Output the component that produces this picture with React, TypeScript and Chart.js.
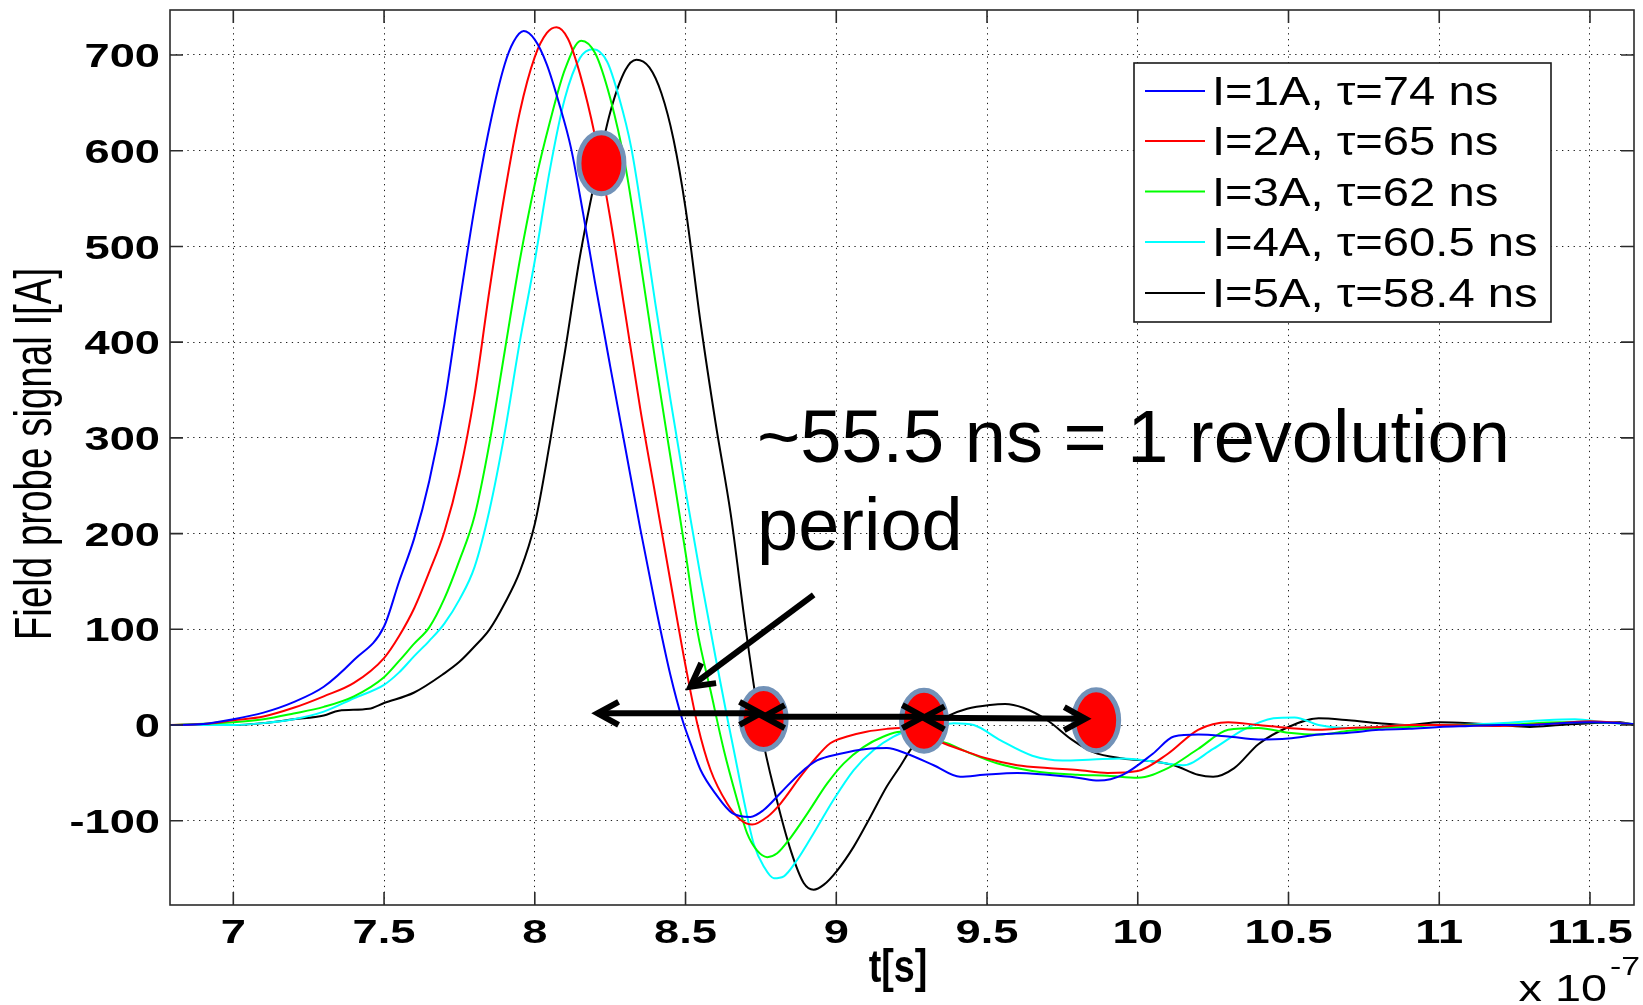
import React, { useEffect, useRef } from 'react';
import { Chart, registerables } from 'chart.js';

Chart.register(...registerables);

const FONT = '"Liberation Sans", Arial, Helvetica, sans-serif';

// ---- axes ----
const xTicks = [7, 7.5, 8, 8.5, 9, 9.5, 10, 10.5, 11, 11.5];
const xTickLabels = ['7', '7.5', '8', '8.5', '9', '9.5', '10', '10.5', '11', '11.5'];
const yTicks = [-100, 0, 100, 200, 300, 400, 500, 600, 700];
const yTickLabels = ['-100', '0', '100', '200', '300', '400', '500', '600', '700'];
const xRange = [6.79, 11.646];
const yRange = [-188, 747];

// ---- series: [time (x 1e-7 s), signal (A)] ----
const seriesI1: [number, number][] = [
  [6.79, 0], [6.9, 1], [7.0, 6], [7.1, 13], [7.2, 24], [7.3, 40], [7.4, 68], [7.5, 103], [7.55, 150],
  [7.6, 195], [7.65, 255], [7.7, 335], [7.75, 440], [7.8, 540], [7.85, 625], [7.9, 690], [7.93, 714],
  [7.963, 725], [8.0, 716], [8.04, 690], [8.08, 650], [8.12, 603], [8.16, 535], [8.2, 462], [8.25, 375],
  [8.3, 290], [8.35, 205], [8.4, 125], [8.45, 52], [8.49, 5], [8.52, -22], [8.55, -47], [8.6, -72],
  [8.655, -92], [8.715, -96], [8.758, -89], [8.815, -71], [8.881, -50], [8.936, -37], [9.013, -30],
  [9.1, -25], [9.168, -24], [9.234, -30], [9.323, -42], [9.411, -54], [9.489, -52], [9.6, -50], [9.7, -52],
  [9.8, -55], [9.87, -58], [9.95, -52], [10.05, -30], [10.12, -12], [10.2, -10], [10.3, -12], [10.4, -15],
  [10.5, -14], [10.6, -10], [10.7, -8], [10.8, -5], [10.9, -4], [11.0, -2], [11.1, -1], [11.2, 0], [11.3, 0],
  [11.4, 2], [11.5, 3], [11.6, 2], [11.646, 1],
];
const seriesI2: [number, number][] = [
  [6.79, 0], [6.9, 1], [7.0, 5], [7.1, 9], [7.2, 18], [7.3, 30], [7.4, 44], [7.5, 70], [7.55, 93], [7.6, 122],
  [7.65, 160], [7.7, 202], [7.75, 262], [7.8, 345], [7.85, 455], [7.9, 555], [7.95, 640], [8.0, 698],
  [8.04, 723], [8.072, 729], [8.11, 717], [8.15, 680], [8.2, 615], [8.25, 530], [8.3, 430], [8.35, 330],
  [8.4, 240], [8.45, 150], [8.5, 62], [8.54, 0], [8.583, -47], [8.638, -82], [8.682, -99], [8.721, -104],
  [8.771, -96], [8.815, -82], [8.881, -54], [8.925, -37], [8.98, -19], [9.036, -12], [9.1, -7], [9.168, -4],
  [9.212, -3], [9.279, -9], [9.356, -19], [9.434, -28], [9.5, -35], [9.6, -42], [9.7, -45], [9.8, -47],
  [9.9, -50], [10.0, -48], [10.1, -30], [10.2, -5], [10.3, 3], [10.4, 0], [10.5, -3], [10.6, -5], [10.7, -3],
  [10.8, -2], [10.9, 0], [11.0, 0], [11.2, -1], [11.4, 2], [11.5, 4], [11.646, 1],
];
const seriesI3: [number, number][] = [
  [6.79, 0], [7.0, 3], [7.1, 6], [7.2, 12], [7.3, 19], [7.4, 30], [7.5, 50], [7.55, 67], [7.6, 85], [7.65, 102],
  [7.7, 132], [7.75, 172], [7.8, 218], [7.85, 295], [7.9, 390], [7.95, 485], [8.0, 565], [8.05, 630],
  [8.1, 685], [8.154, 715], [8.2, 702], [8.25, 655], [8.3, 585], [8.35, 485], [8.4, 380], [8.45, 280],
  [8.5, 180], [8.54, 97], [8.583, 36], [8.627, -26], [8.671, -78], [8.704, -113], [8.737, -131], [8.771, -138],
  [8.804, -134], [8.85, -117], [8.905, -92], [8.97, -61], [9.025, -40], [9.09, -23], [9.157, -12], [9.212, -7],
  [9.279, -12], [9.367, -19], [9.434, -28], [9.533, -40], [9.65, -48], [9.8, -52], [9.9, -53], [10.0, -55],
  [10.1, -45], [10.2, -25], [10.3, -5], [10.4, -3], [10.5, -8], [10.6, -10], [10.7, -6], [10.8, -3],
  [10.9, -2], [11.0, 0], [11.2, 0], [11.4, 3], [11.5, 3], [11.646, 1],
];
const seriesI4: [number, number][] = [
  [6.79, 0], [7.0, 0], [7.1, 2], [7.2, 6], [7.3, 14], [7.4, 28], [7.5, 42], [7.55, 55], [7.6, 72], [7.65, 88],
  [7.7, 106], [7.75, 131], [7.8, 165], [7.85, 225], [7.9, 305], [7.95, 400], [8.0, 485], [8.05, 580],
  [8.1, 655], [8.15, 697], [8.194, 706], [8.24, 693], [8.28, 655], [8.32, 603], [8.36, 525], [8.4, 440],
  [8.45, 340], [8.5, 245], [8.55, 155], [8.6, 70], [8.64, 5], [8.66, -26], [8.693, -78], [8.726, -124],
  [8.76, -148], [8.793, -160], [8.826, -158], [8.87, -141], [8.925, -113], [8.991, -78], [9.058, -47],
  [9.124, -26], [9.19, -12], [9.246, -5], [9.323, -2], [9.39, 2], [9.456, 0], [9.545, -16], [9.65, -32],
  [9.75, -37], [9.85, -36], [9.95, -35], [10.05, -38], [10.15, -42], [10.25, -25], [10.35, -5], [10.45, 7],
  [10.52, 8], [10.6, 0], [10.7, -3], [10.8, -2], [10.9, 0], [11.0, 0], [11.2, 2], [11.35, 5], [11.45, 6],
  [11.55, 3], [11.646, 1],
];
const seriesI5: [number, number][] = [
  [6.79, 0], [7.0, 0], [7.1, 2], [7.2, 6], [7.3, 10], [7.35, 15], [7.45, 17], [7.5, 23], [7.6, 34], [7.7, 54],
  [7.75, 66], [7.8, 82], [7.85, 100], [7.9, 127], [7.95, 160], [8.0, 210], [8.05, 295], [8.1, 390],
  [8.15, 490], [8.2, 570], [8.25, 640], [8.3, 684], [8.337, 695], [8.38, 687], [8.42, 660], [8.46, 612],
  [8.5, 540], [8.55, 420], [8.6, 315], [8.65, 220], [8.7, 100], [8.75, -5], [8.8, -75], [8.85, -132],
  [8.892, -165], [8.925, -172], [8.958, -167], [9.003, -152], [9.058, -127], [9.113, -96], [9.168, -64],
  [9.212, -43], [9.246, -26], [9.3, -5], [9.367, 9], [9.434, 17], [9.51, 21], [9.56, 22], [9.62, 18],
  [9.7, 5], [9.78, -15], [9.85, -28], [9.95, -35], [10.05, -38], [10.12, -42], [10.2, -52], [10.25, -54],
  [10.32, -45], [10.4, -20], [10.5, -2], [10.6, 7], [10.7, 5], [10.8, 2], [10.9, 0], [11.0, 3], [11.1, 2],
  [11.2, 0], [11.3, -2], [11.4, 0], [11.5, 2], [11.6, 3], [11.646, 0],
];

const seriesLabels = ['I=1A, \u03c4=74 ns', 'I=2A, \u03c4=65 ns', 'I=3A, \u03c4=62 ns', 'I=4A, \u03c4=60.5 ns', 'I=5A, \u03c4=58.4 ns'];
const seriesColors = ['#0000ff', '#ff0000', '#00ff00', '#00ffff', '#000000'];
const allSeries = [seriesI1, seriesI2, seriesI3, seriesI4, seriesI5];

// ---- annotation anchors (data units) ----
const markerT = [8.221, 8.759, 9.291, 9.862];
const markerI = [587, 6.3, 4.5, 5];
const spanT: [number, number][] = [[8.208, 8.749], [8.759, 9.289], [9.289, 9.826]];
const spanI: [number, number][] = [[12.2, 12.2], [8.7, 8.7], [7.5, 6.5]];
const pointerT: [number, number] = [8.925, 8.516];
const pointerI: [number, number] = [136, 40];
const noteLines = ['~55.5 ns = 1 revolution', 'period'];

const xTitle = 't[s]';
const yTitle = 'Field probe signal I[A]';
const xExponent = ['x 10', '-7'];

function stretchedText(
  ctx: CanvasRenderingContext2D, str: string, x: number, y: number,
  size: number, sx: number, align: 'left' | 'center' | 'right', weight = 'normal'
) {
  ctx.save();
  ctx.font = `${weight} ${size}px ${FONT}`;
  ctx.fillStyle = '#000';
  ctx.textBaseline = 'alphabetic';
  ctx.textAlign = 'left';
  const w = ctx.measureText(str).width * sx;
  let x0 = x;
  if (align === 'center') x0 = x - w / 2;
  else if (align === 'right') x0 = x - w;
  ctx.translate(x0, y);
  ctx.scale(sx, 1);
  ctx.fillText(str, 0, 0);
  ctx.restore();
}

function chevron(ctx: CanvasRenderingContext2D, tx: number, ty: number, dirX: number, dirY: number, len: number, ang: number) {
  const a = Math.atan2(dirY, dirX);
  ctx.beginPath();
  ctx.moveTo(tx - len * Math.cos(a - ang), ty - len * Math.sin(a - ang));
  ctx.lineTo(tx, ty);
  ctx.lineTo(tx - len * Math.cos(a + ang), ty - len * Math.sin(a + ang));
  ctx.stroke();
}

const decorPlugin = {
  id: 'decor',
  afterDatasetsDraw(chart: any) {
    const { ctx, chartArea: ca, scales } = chart;
    const xs = scales.x;
    const ys = scales.y;
    ctx.save();
    // box
    ctx.strokeStyle = '#2b2b2b';
    ctx.lineWidth = 1.6;
    ctx.strokeRect(ca.left, ca.top, ca.right - ca.left, ca.bottom - ca.top);
    // inner tick marks
    const tl = 13;
    ctx.beginPath();
    xTicks.forEach((v) => {
      const px = xs.getPixelForValue(v);
      ctx.moveTo(px, ca.bottom); ctx.lineTo(px, ca.bottom - tl);
      ctx.moveTo(px, ca.top); ctx.lineTo(px, ca.top + tl);
    });
    yTicks.forEach((v) => {
      const py = ys.getPixelForValue(v);
      ctx.moveTo(ca.left, py); ctx.lineTo(ca.left + tl, py);
      ctx.moveTo(ca.right, py); ctx.lineTo(ca.right - tl, py);
    });
    ctx.stroke();

    // legend
    const lx0 = 1134, ly0 = 63, lx1 = 1551, ly1 = 322;
    ctx.fillStyle = '#fff';
    ctx.fillRect(lx0, ly0, lx1 - lx0, ly1 - ly0);
    ctx.strokeStyle = '#1a1a1a';
    ctx.lineWidth = 1.6;
    ctx.strokeRect(lx0, ly0, lx1 - lx0, ly1 - ly0);
    const rows = [91, 141, 191.5, 242, 293];
    seriesLabels.forEach((lab, k) => {
      ctx.strokeStyle = seriesColors[k];
      ctx.lineWidth = 2;
      ctx.beginPath();
      ctx.moveTo(1145, rows[k]);
      ctx.lineTo(1205, rows[k]);
      ctx.stroke();
      stretchedText(ctx, lab, 1212, rows[k] + 14.3, 40, 1.18, 'left');
    });

    // ellipses
    markerT.forEach((t, k) => {
      const px = xs.getPixelForValue(t);
      const py = ys.getPixelForValue(markerI[k]);
      ctx.beginPath();
      ctx.ellipse(px, py, 22.5, 30.5, 0, 0, Math.PI * 2);
      ctx.fillStyle = '#ff0000';
      ctx.fill();
      ctx.lineWidth = 5;
      ctx.strokeStyle = '#7292b8';
      ctx.stroke();
    });

    // horizontal double arrows
    ctx.strokeStyle = '#000';
    ctx.lineWidth = 6;
    ctx.lineCap = 'butt';
    ctx.lineJoin = 'miter';
    spanT.forEach((pair, k) => {
      const x1 = xs.getPixelForValue(pair[0]);
      const x2 = xs.getPixelForValue(pair[1]);
      const y1 = ys.getPixelForValue(spanI[k][0]);
      const y2 = ys.getPixelForValue(spanI[k][1]);
      ctx.beginPath();
      ctx.moveTo(x1, y1);
      ctx.lineTo(x2, y2);
      ctx.stroke();
      chevron(ctx, x1, y1, x1 - x2, y1 - y2, 24, 0.5);
      chevron(ctx, x2, y2, x2 - x1, y2 - y1, 24, 0.5);
    });
    // pointer arrow
    {
      const x1 = xs.getPixelForValue(pointerT[0]);
      const y1 = ys.getPixelForValue(pointerI[0]);
      const x2 = xs.getPixelForValue(pointerT[1]);
      const y2 = ys.getPixelForValue(pointerI[1]);
      ctx.beginPath();
      ctx.moveTo(x1, y1);
      ctx.lineTo(x2, y2);
      ctx.stroke();
      chevron(ctx, x2, y2, x2 - x1, y2 - y1, 26, 0.5);
    }

    // note text (not stretched)
    ctx.fillStyle = '#000';
    ctx.font = `normal 74px ${FONT}`;
    ctx.textAlign = 'left';
    ctx.textBaseline = 'alphabetic';
    ctx.fillText(noteLines[0], 757, 462);
    ctx.fillText(noteLines[1], 757, 550);
    ctx.restore();
  },
  afterDraw(chart: any) {
    const { ctx, chartArea: ca, scales } = chart;
    const xs = scales.x;
    const ys = scales.y;
    ctx.save();
    const ts = 34, sx = 1.33;
    yTicks.forEach((v, k) => {
      const py = ys.getPixelForValue(v);
      stretchedText(ctx, yTickLabels[k], ca.left - 10, py + 0.358 * ts, ts, sx, 'right', 'bold');
    });
    xTicks.forEach((v, k) => {
      const px = xs.getPixelForValue(v);
      stretchedText(ctx, xTickLabels[k], px, ca.bottom + 38, ts, sx, 'center', 'bold');
    });
    // x title
    stretchedText(ctx, xTitle, 898, 982, 46, 0.82, 'center', 'bold');
    // exponent
    stretchedText(ctx, xExponent[0], 1607, 1001, 36, 1.3, 'right', 'normal');
    stretchedText(ctx, xExponent[1], 1610, 975, 26, 1.3, 'left', 'normal');
    // y title, rotated and stretched across
    ctx.save();
    ctx.translate(51, 454);
    ctx.rotate(-Math.PI / 2);
    ctx.scale(1, 1.33);
    ctx.font = `normal 38.5px ${FONT}`;
    ctx.fillStyle = '#000';
    ctx.textAlign = 'center';
    ctx.textBaseline = 'alphabetic';
    ctx.fillText(yTitle, 0, 0);
    ctx.restore();
    ctx.restore();
  },
};

export default function App() {
  const ref = useRef<HTMLCanvasElement | null>(null);
  useEffect(() => {
    document.body.style.margin = '0';
    const canvas = ref.current;
    if (!canvas) return;
    const chart = new Chart(canvas, {
      type: 'line',
      data: {
        datasets: allSeries.map((s, k) => ({
          label: seriesLabels[k],
          data: s.map(([t, v]) => ({ x: t, y: v })),
          borderColor: seriesColors[k],
          backgroundColor: seriesColors[k],
          borderWidth: 2,
          pointRadius: 0,
          fill: false,
          cubicInterpolationMode: 'monotone' as const,
        })),
      },
      options: {
        animation: false,
        responsive: false,
        maintainAspectRatio: false,
        devicePixelRatio: 1,
        layout: { padding: { left: 0, top: 10, right: 9, bottom: 0 } },
        plugins: { legend: { display: false }, tooltip: { enabled: false } },
        scales: {
          x: {
            type: 'linear',
            min: xRange[0],
            max: xRange[1],
            afterBuildTicks: (s: any) => { s.ticks = xTicks.map((v) => ({ value: v })); },
            afterFit: (s: any) => { s.height = 100; },
            ticks: { display: false },
            grid: { color: '#1e1e1e', lineWidth: 1, drawTicks: false },
            border: { display: false, dash: [1.3, 4.5] },
          },
          y: {
            type: 'linear',
            min: yRange[0],
            max: yRange[1],
            afterBuildTicks: (s: any) => { s.ticks = yTicks.map((v) => ({ value: v })); },
            afterFit: (s: any) => { s.width = 170; },
            ticks: { display: false },
            grid: { color: '#1e1e1e', lineWidth: 1, drawTicks: false },
            border: { display: false, dash: [1.3, 4.5] },
          },
        },
      },
      plugins: [decorPlugin],
    });
    return () => chart.destroy();
  }, []);
  return (
    <div style={{ position: 'fixed', left: 0, top: 0, width: 1643, height: 1005, background: '#fff' }}>
      <canvas ref={ref} width={1643} height={1005} style={{ width: 1643, height: 1005, display: 'block' }} />
    </div>
  );
}
